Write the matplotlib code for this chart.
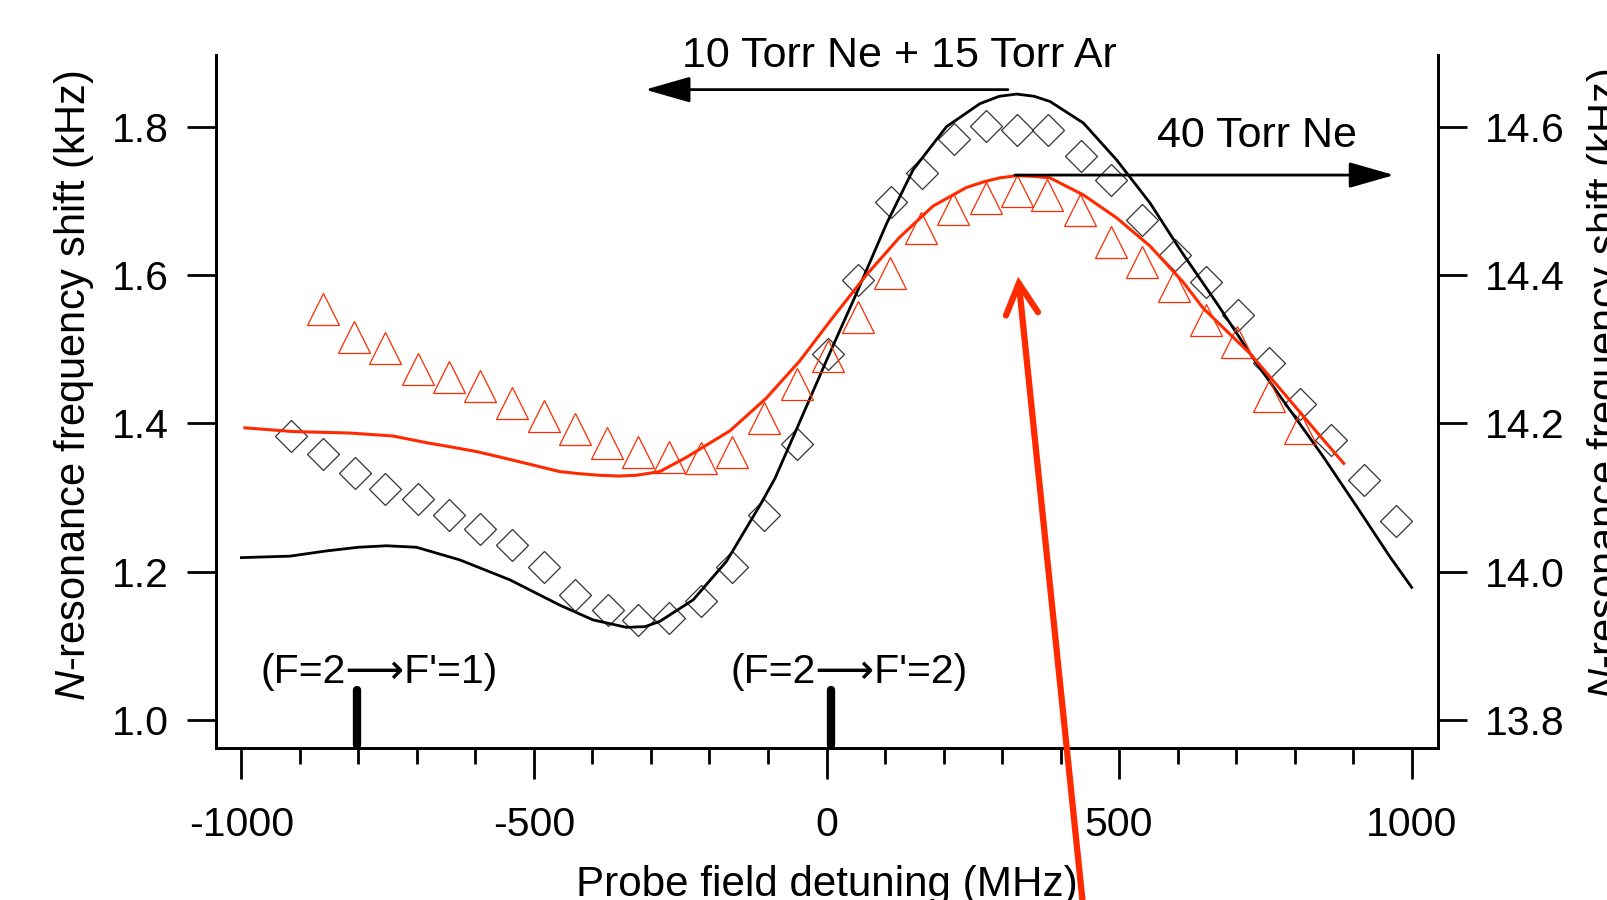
import matplotlib
matplotlib.use("Agg")
import matplotlib.pyplot as plt
from matplotlib.ticker import MultipleLocator, FormatStrFormatter

plt.rcParams['font.family'] = ['Liberation Sans', 'DejaVu Sans']
plt.rcParams['mathtext.fontset'] = 'custom'
plt.rcParams['mathtext.rm'] = 'Liberation Sans'
plt.rcParams['mathtext.it'] = 'Liberation Sans:italic'
plt.rcParams['axes.unicode_minus'] = False

RED = '#ff2a00'
FS = 29.5
OFFSET = 12.8  # right axis reads left axis + 12.8 kHz

# --- 10 Torr Ne + 15 Torr Ar (diamonds, left axis, kHz) ---
mix_x = [-916, -861, -806, -754, -698, -645, -593, -537, -483, -430, -374, -322,
         -269, -214, -161, -107, -51, 2, 54, 111, 164, 218, 272, 326,
         379, 435, 487, 540, 595, 648, 704, 757, 810, 863, 919, 973]
mix_y = [1.383, 1.359, 1.333, 1.311, 1.298, 1.277, 1.257, 1.236, 1.207, 1.168, 1.148, 1.135,
         1.137, 1.161, 1.207, 1.276, 1.372, 1.493, 1.593, 1.699, 1.737, 1.784, 1.801, 1.796,
         1.796, 1.760, 1.728, 1.674, 1.627, 1.591, 1.546, 1.482, 1.426, 1.377, 1.324, 1.269]

mix_fit_x = [-1000, -917, -855, -800, -752, -701, -627, -541, -456, -399, -342, -310, -285, -228,
             -171, -112, -88, -48, 0, 51, 103, 148, 205, 262, 295, 325, 355, 382,
             439, 496, 553, 607, 667, 735, 792, 849, 906, 963, 1000]
mix_fit_y = [1.219, 1.221, 1.228, 1.233, 1.235, 1.233, 1.216, 1.189, 1.155, 1.135, 1.125, 1.126, 1.133, 1.162,
             1.214, 1.292, 1.326, 1.398, 1.485, 1.575, 1.670, 1.742, 1.800, 1.831, 1.841, 1.844, 1.841, 1.834,
             1.805, 1.755, 1.697, 1.631, 1.562, 1.481, 1.418, 1.355, 1.288, 1.220, 1.179]

# --- 40 Torr Ne (triangles, right axis, kHz) ---
ne_x = [-861, -808, -754, -698, -646, -593, -537, -483, -430, -375, -322, -269,
        -214, -161, -107, -51, 2, 54, 109, 162, 216, 272, 325, 377,
        433, 486, 540, 594, 648, 701, 757, 809]
ne_y = [14.354, 14.317, 14.302, 14.273, 14.262, 14.251, 14.227, 14.210, 14.193, 14.174, 14.161, 14.155,
        14.154, 14.161, 14.207, 14.253, 14.291, 14.343, 14.403, 14.463, 14.489, 14.504, 14.513, 14.508,
        14.488, 14.444, 14.418, 14.385, 14.340, 14.310, 14.237, 14.194]

ne_fit_x = [-994, -912, -815, -741, -684, -640, -598, -555, -513, -456, -420, -387, -355, -325, -285, -240,
            -165, -103, -46, 11, 68, 125, 182, 239, 270, 296, 325, 355, 382, 439,
            496, 553, 610, 644, 724, 792, 849, 884]
ne_fit_y = [14.194, 14.189, 14.187, 14.183, 14.174, 14.168, 14.162, 14.154, 14.146, 14.135, 14.132, 14.130, 14.129, 14.130, 14.135, 14.154,
            14.190, 14.234, 14.284, 14.343, 14.400, 14.451, 14.493, 14.518, 14.526, 14.531, 14.534, 14.533, 14.531, 14.508,
            14.477, 14.439, 14.390, 14.355, 14.294, 14.231, 14.178, 14.146]

# hyperfine transitions
trans_x = [-802, 7]
trans_labels = ["(F=2\u27f6F'=1)", "(F=2\u27f6F'=2)"]
trans_label_x = [-765, 38]

left_ticks = [1.0, 1.2, 1.4, 1.6, 1.8]
xlim = (-1044, 1045.5)
ylim = (0.9627, 1.8967)

fig = plt.figure(figsize=(16.07, 9.0), dpi=100)
ax = fig.add_axes([0.1342, 0.1692, 0.7608, 0.7697])
ax2 = ax.twinx()

ax.set_xlim(*xlim)
ax.set_ylim(*ylim)
ax2.set_ylim(ylim[0] + OFFSET, ylim[1] + OFFSET)

# black: gas mixture
ax.plot(mix_fit_x, mix_fit_y, color='black', lw=2.0, zorder=3)
ax.plot(mix_x, mix_y, linestyle='none', marker='D', markersize=16.5,
        markerfacecolor='none', markeredgecolor='#333333', markeredgewidth=0.9, zorder=2)

# red: pure neon
ax2.plot(ne_fit_x, ne_fit_y, color=RED, lw=2.2, zorder=3)
ax2.plot(ne_x, ne_y, linestyle='none', marker='^', markersize=23.5,
         markerfacecolor='none', markeredgecolor=RED, markeredgewidth=0.9, zorder=2)

# transition markers
for tx in trans_x:
    ax.plot([tx, tx], [ylim[0] + 0.004, 1.0404], color='black', lw=6,
            solid_capstyle='round', zorder=4)
for lx, lab in zip(trans_label_x, trans_labels):
    ax.text(lx, 1.0495, lab, ha='center', va='baseline', fontsize=FS)

# axes styling
for a in (ax, ax2):
    a.spines['top'].set_visible(False)
    for s in ('left', 'right', 'bottom'):
        a.spines[s].set_linewidth(2.0)

ax.xaxis.set_major_locator(MultipleLocator(500))
ax.xaxis.set_minor_locator(MultipleLocator(100))
ax.tick_params(axis='x', which='major', direction='out', length=22.4, width=2,
               pad=19.5, labelsize=FS)
ax.tick_params(axis='x', which='minor', direction='out', length=11.7, width=2)
ax.set_yticks(left_ticks)
ax.yaxis.set_major_formatter(FormatStrFormatter('%.1f'))
ax.tick_params(axis='y', direction='out', length=21, width=2, pad=12.5, labelsize=FS)

ax2.set_yticks([t + OFFSET for t in left_ticks])
ax2.yaxis.set_major_formatter(FormatStrFormatter('%.1f'))
ax2.tick_params(axis='y', direction='out', length=21, width=2, pad=12.5, labelsize=FS)

# series annotations
arrow_k = dict(arrowstyle='-|>,head_length=2.8,head_width=0.8', color='black',
               lw=2, shrinkA=0, shrinkB=0, mutation_scale=10)
ax2.annotate('', xy=(-310, 1.850), xytext=(310, 1.850), xycoords=ax.transData,
             textcoords=ax.transData, arrowprops=arrow_k, annotation_clip=False)
ax2.annotate('', xy=(970, 1.7348), xytext=(322, 1.7348), xycoords=ax.transData,
             textcoords=ax.transData, arrowprops=arrow_k, annotation_clip=False)
ax2.text(125, 1.8808 + OFFSET, '10 Torr Ne + 15 Torr Ar', ha='center', va='baseline', fontsize=31)
ax2.text(736, 1.773 + OFFSET, '40 Torr Ne', ha='center', va='baseline', fontsize=31)

# red pointer arrow
ax2.annotate('', xy=(327.5, 1.5977), xytext=(440, 0.737), xycoords=ax.transData,
             textcoords=ax.transData, annotation_clip=False,
             arrowprops=dict(arrowstyle='->,head_length=1.1,head_width=0.58', mutation_scale=20,
                             color=RED, lw=4.5, shrinkA=0, shrinkB=0, capstyle='round',
                             joinstyle='miter', clip_on=False))

# axis labels (figure is cropped at the right and bottom)
ylab = r'$N$-resonance frequency shift (kHz)'
fig.text(85.2 / 1607, 1 - 386 / 900, ylab, rotation=90, rotation_mode='anchor',
         ha='center', va='baseline', fontsize=30)
fig.text(1618 / 1607, 1 - 384 / 900, ylab, rotation=90, rotation_mode='anchor',
         ha='center', va='baseline', fontsize=30)
fig.text(826.5 / 1607, 4 / 900, 'Probe field detuning (MHz)', ha='center', va='baseline',
         fontsize=30.3)

fig.savefig('out.png', dpi=100)
